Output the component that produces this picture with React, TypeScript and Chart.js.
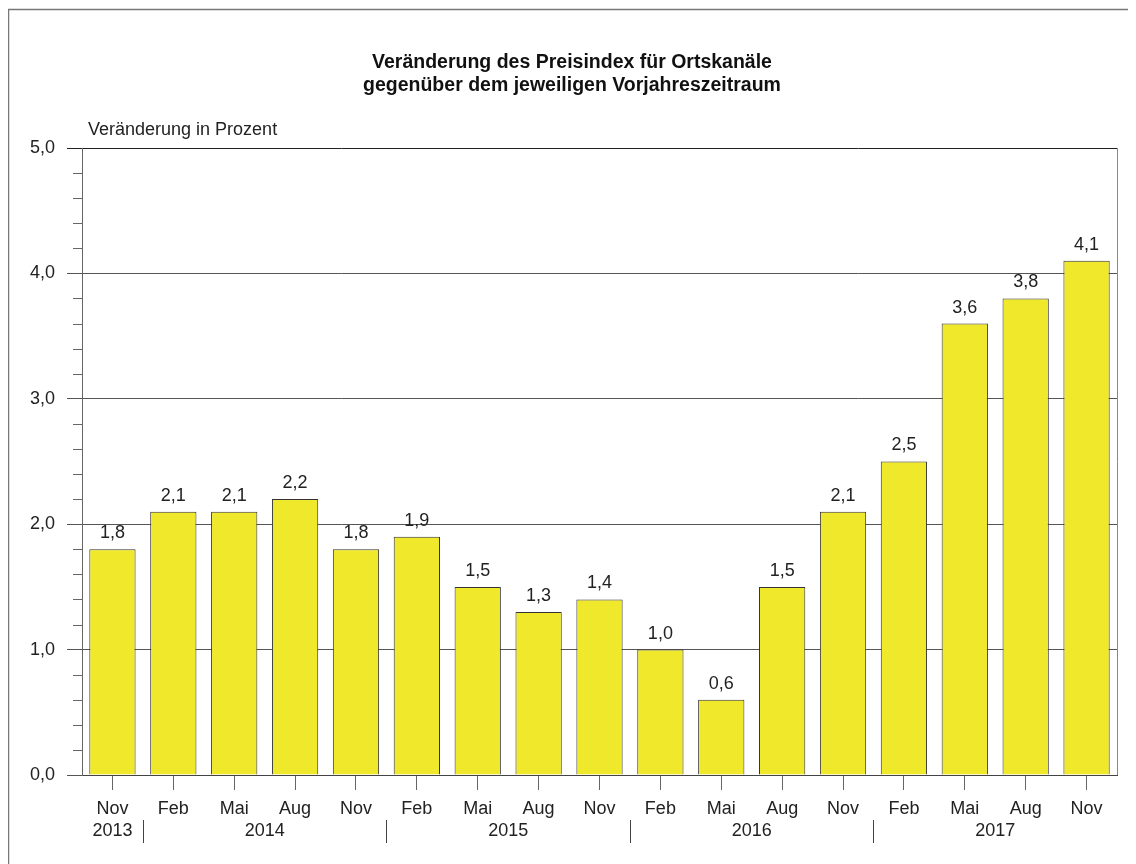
import React, { useEffect, useRef } from "react";
import { Chart, registerables } from "chart.js";

Chart.register(...registerables);

const categories = ["Nov", "Feb", "Mai", "Aug", "Nov", "Feb", "Mai", "Aug", "Nov", "Feb", "Mai", "Aug", "Nov", "Feb", "Mai", "Aug", "Nov"];
const values = [1.8, 2.1, 2.1, 2.2, 1.8, 1.9, 1.5, 1.3, 1.4, 1.0, 0.6, 1.5, 2.1, 2.5, 3.6, 3.8, 4.1];
const years = ["2013", "2014", "2015", "2016", "2017"];
const yearFirst = [0, 1, 5, 9, 13];
const yearLast = [0, 4, 8, 12, 16];
const titleLines = ["Veränderung des Preisindex für Ortskanäle", "gegenüber dem jeweiligen Vorjahreszeitraum"];
const yAxisTitle = "Veränderung in Prozent";

const FONT = "'Liberation Sans', Arial, sans-serif";
const fmt = (v: number) => v.toFixed(1).replace(".", ",");

const extras = {
  id: "extras",
  afterDraw(chart: any) {
    const ctx = chart.ctx as CanvasRenderingContext2D;
    const { chartArea } = chart;
    const x = chart.scales.x;
    const y = chart.scales.y;
    ctx.save();
    // frame
    ctx.strokeStyle = "#777";
    ctx.lineWidth = 1.5;
    ctx.beginPath();
    ctx.moveTo(0.5, chart.height);
    ctx.lineTo(0.5, 1.5);
    ctx.lineTo(chart.width, 1.5);
    ctx.stroke();
    // right border
    ctx.strokeStyle = "#888";
    ctx.lineWidth = 1;
    ctx.beginPath();
    ctx.moveTo(chartArea.right + 0.5, chartArea.top);
    ctx.lineTo(chartArea.right + 0.5, chartArea.bottom);
    ctx.stroke();
    // minor ticks
    ctx.strokeStyle = "#666";
    for (let i = 1; i < 25; i++) {
      if (i % 5 === 0) continue;
      const yy = Math.round(y.getPixelForValue(i * 0.2)) + 0.5;
      ctx.beginPath();
      ctx.moveTo(chartArea.left - 9, yy);
      ctx.lineTo(chartArea.left, yy);
      ctx.stroke();
    }
    // title
    ctx.fillStyle = "#111";
    ctx.textAlign = "center";
    ctx.textBaseline = "middle";
    ctx.font = `bold 19.5px ${FONT}`;
    const cx = chart.width / 2;
    ctx.fillText(titleLines[0], cx, 55);
    ctx.fillText(titleLines[1], cx, 78);
    // axis title
    ctx.font = `18px ${FONT}`;
    ctx.textAlign = "left";
    ctx.fillStyle = "#222";
    ctx.fillText(yAxisTitle, 80, 122);
    // data labels
    ctx.textAlign = "center";
    ctx.textBaseline = "bottom";
    const meta = chart.getDatasetMeta(0);
    meta.data.forEach((bar: any, i: number) => {
      ctx.fillText(fmt(values[i]), bar.x, bar.y - 7);
    });
    // years
    ctx.textBaseline = "middle";
    years.forEach((yr, i) => {
      const a = x.getPixelForValue(yearFirst[i]);
      const b = x.getPixelForValue(yearLast[i]);
      ctx.fillText(yr, (a + b) / 2, chartArea.bottom + 56);
    });
    // separators
    ctx.strokeStyle = "#444";
    for (let i = 1; i < years.length; i++) {
      const a = x.getPixelForValue(yearFirst[i] - 1);
      const b = x.getPixelForValue(yearFirst[i]);
      const sx = Math.round((a + b) / 2) + 0.5;
      ctx.beginPath();
      ctx.moveTo(sx, chartArea.bottom + 45);
      ctx.lineTo(sx, chartArea.bottom + 68);
      ctx.stroke();
    }
    ctx.restore();
  },
};

export default function App() {
  const ref = useRef<HTMLCanvasElement>(null);
  useEffect(() => {
    if (!ref.current) return;
    const chart = new Chart(ref.current, {
      type: "bar",
      data: {
        labels: categories,
        datasets: [
          {
            data: values,
            backgroundColor: "#F0E82A",
            borderColor: "#333",
            borderWidth: 1,
            barPercentage: 0.76,
            categoryPercentage: 1,
          },
        ],
      },
      options: {
        animation: false,
        responsive: false,
        devicePixelRatio: 1,
        layout: { padding: { top: 140, right: 19, left: 0, bottom: 0 } },
        plugins: { legend: { display: false }, tooltip: { enabled: false }, title: { display: false } },
        scales: {
          x: {
            offset: true,
            grid: { drawOnChartArea: false, offset: false, tickLength: 15, color: "#666" },
            border: { display: true, color: "#444" },
            ticks: { font: { size: 18, family: FONT }, color: "#222", padding: 8, maxRotation: 0, autoSkip: false },
            afterFit: (s: any) => { s.height = 89; },
          },
          y: {
            min: 0,
            max: 5,
            grid: {
              tickLength: 15,
              color: (c: any) => (c.tick && c.tick.value === 5 ? "#222" : "#555"),
            },
            border: { display: true, color: "#666" },
            ticks: {
              stepSize: 1,
              font: { size: 18, family: FONT },
              color: "#222",
              padding: 12,
              callback: (v: any) => fmt(Number(v)),
            },
            afterFit: (s: any) => { s.width = 74; },
          },
        },
      },
      plugins: [extras],
    });
    return () => chart.destroy();
  }, []);
  return (
    <div style={{ width: 1128, height: 856 }}>
      <canvas ref={ref} width={1128} height={856} style={{ display: "block", width: 1128, height: 856 }} />
    </div>
  );
}
